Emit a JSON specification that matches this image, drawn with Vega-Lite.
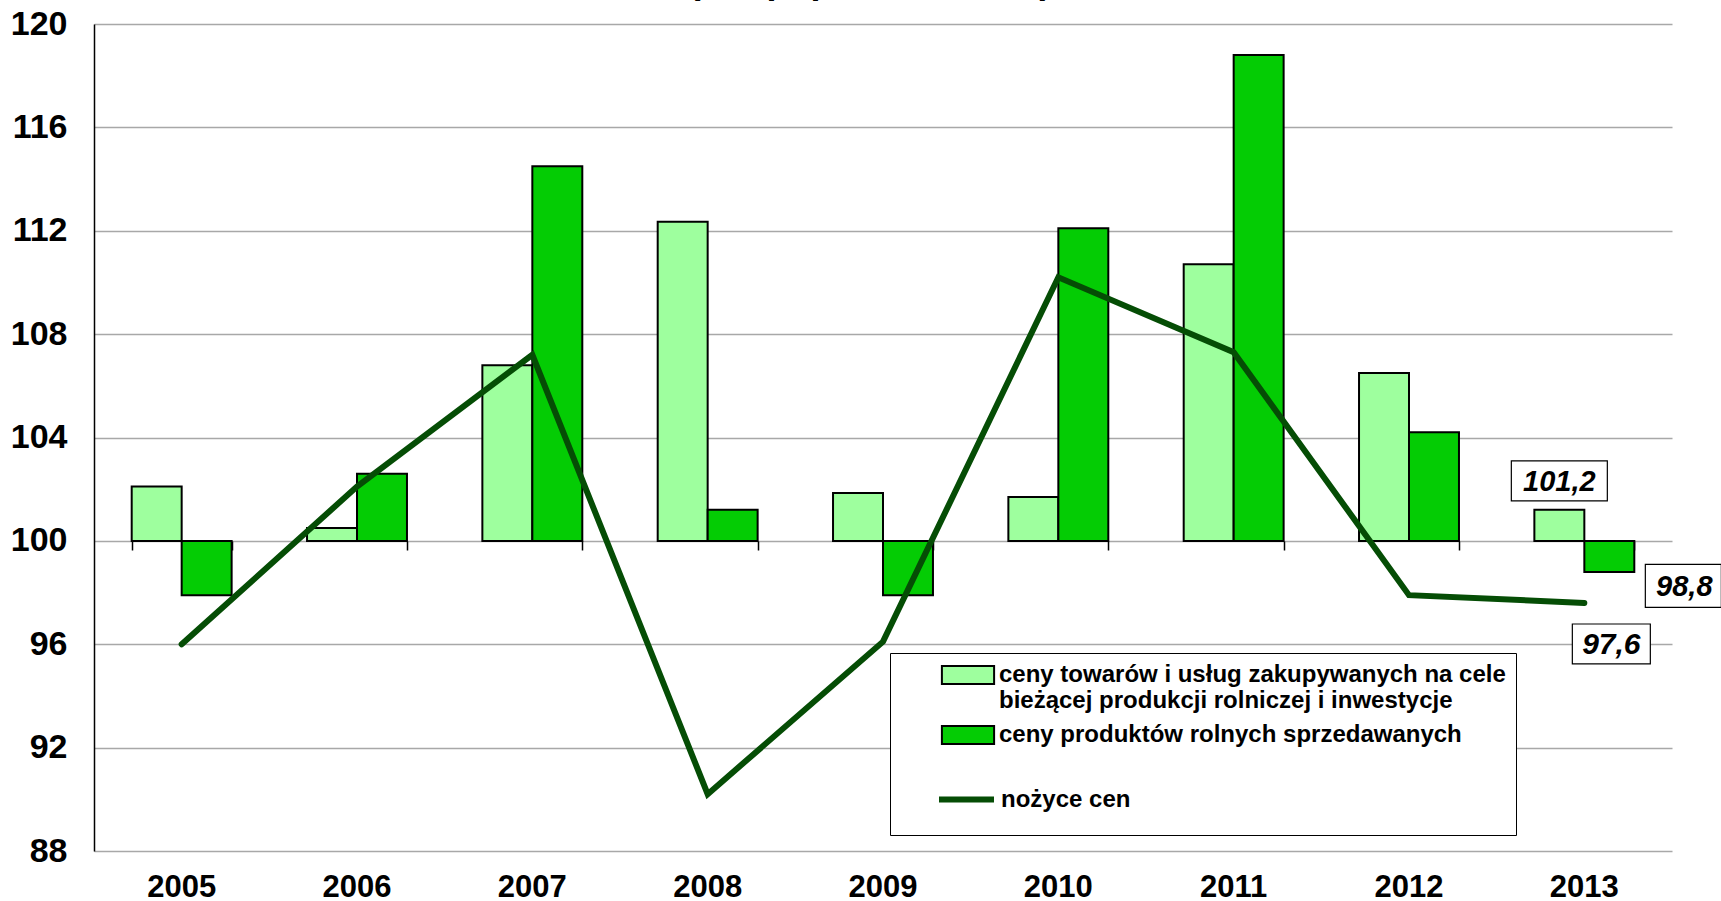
{
  "$schema": "https://vega.github.io/schema/vega-lite/v6.json",
  "width": 1578,
  "height": 827,
  "autosize": {"type": "none"},
  "padding": {"left": 94, "top": 24, "right": 49, "bottom": 50},
  "background": "white",
  "title": {
    "text": "(rok poprzedni = 100)",
    "fontSize": 36,
    "fontWeight": "bold",
    "font": "Liberation Sans",
    "anchor": "middle",
    "frame": "group",
    "baseline": "alphabetic",
    "offset": -22,
    "dx": -13
  },
  "config": {
    "font": "Liberation Sans",
    "view": {"stroke": null}
  },
  "datasets": {
    "bars": [
      {"year": "2005", "series": "ceny towarów i usług zakupywanych na cele bieżącej produkcji rolniczej i inwestycje", "value": 102.1},
      {"year": "2005", "series": "ceny produktów rolnych sprzedawanych", "value": 97.9},
      {"year": "2006", "series": "ceny towarów i usług zakupywanych na cele bieżącej produkcji rolniczej i inwestycje", "value": 100.5},
      {"year": "2006", "series": "ceny produktów rolnych sprzedawanych", "value": 102.6},
      {"year": "2007", "series": "ceny towarów i usług zakupywanych na cele bieżącej produkcji rolniczej i inwestycje", "value": 106.8},
      {"year": "2007", "series": "ceny produktów rolnych sprzedawanych", "value": 114.5},
      {"year": "2008", "series": "ceny towarów i usług zakupywanych na cele bieżącej produkcji rolniczej i inwestycje", "value": 112.35},
      {"year": "2008", "series": "ceny produktów rolnych sprzedawanych", "value": 101.2},
      {"year": "2009", "series": "ceny towarów i usług zakupywanych na cele bieżącej produkcji rolniczej i inwestycje", "value": 101.85},
      {"year": "2009", "series": "ceny produktów rolnych sprzedawanych", "value": 97.9},
      {"year": "2010", "series": "ceny towarów i usług zakupywanych na cele bieżącej produkcji rolniczej i inwestycje", "value": 101.7},
      {"year": "2010", "series": "ceny produktów rolnych sprzedawanych", "value": 112.1},
      {"year": "2011", "series": "ceny towarów i usług zakupywanych na cele bieżącej produkcji rolniczej i inwestycje", "value": 110.7},
      {"year": "2011", "series": "ceny produktów rolnych sprzedawanych", "value": 118.8},
      {"year": "2012", "series": "ceny towarów i usług zakupywanych na cele bieżącej produkcji rolniczej i inwestycje", "value": 106.5},
      {"year": "2012", "series": "ceny produktów rolnych sprzedawanych", "value": 104.2},
      {"year": "2013", "series": "ceny towarów i usług zakupywanych na cele bieżącej produkcji rolniczej i inwestycje", "value": 101.2},
      {"year": "2013", "series": "ceny produktów rolnych sprzedawanych", "value": 98.8}
    ],
    "line": [
      {"year": "2005", "series": "nożyce cen", "value": 96.0},
      {"year": "2006", "series": "nożyce cen", "value": 102.1},
      {"year": "2007", "series": "nożyce cen", "value": 107.2},
      {"year": "2008", "series": "nożyce cen", "value": 90.2},
      {"year": "2009", "series": "nożyce cen", "value": 96.1},
      {"year": "2010", "series": "nożyce cen", "value": 110.2},
      {"year": "2011", "series": "nożyce cen", "value": 107.3},
      {"year": "2012", "series": "nożyce cen", "value": 97.9},
      {"year": "2013", "series": "nożyce cen", "value": 97.6}
    ],
    "labels": [
      {"year": "2013", "label": "101,2", "value": 101.2},
      {"year": "2013", "label": "98,8", "value": 98.8},
      {"year": "2013", "label": "97,6", "value": 97.6}
    ]
  },
  "resolve": {"axis": {"x": "independent"}},
  "layer": [
    {
      "data": {"name": "bars"},
      "mark": {"type": "bar", "stroke": "black", "strokeWidth": 2},
      "encoding": {
        "x": {
          "field": "year", "type": "nominal", "title": null,
          "scale": {"paddingInner": 0.43, "paddingOuter": 0.215},
          "axis": {"orient": "bottom", "labelFontSize": 31, "labelFontWeight": "bold", "labelColor": "black", "labelAngle": 0, "ticks": false, "domain": false, "labelPadding": 21, "grid": false}
        },
        "xOffset": {"field": "series", "type": "nominal", "sort": null},
        "y": {
          "field": "value", "type": "quantitative", "title": null,
          "scale": {"domain": [88, 120], "nice": false, "zero": false},
          "axis": {"values": [88, 92, 96, 100, 104, 108, 112, 116, 120], "grid": true, "gridColor": "#A8A8A8", "gridWidth": 1.5, "ticks": false, "domain": true, "domainColor": "black", "domainWidth": 1.5, "labelFontSize": 34, "labelFontWeight": "bold", "labelColor": "black", "labelPadding": 27}
        },
        "y2": {"datum": 100},
        "fill": {
          "field": "series", "type": "nominal",
          "scale": {
            "domain": ["ceny towarów i usług zakupywanych na cele bieżącej produkcji rolniczej i inwestycje", "ceny produktów rolnych sprzedawanych"],
            "range": ["#9EFF9E", "#04CC04"]
          },
          "legend": {
            "orient": "none",
            "legendX": 796,
            "legendY": 629,
            "title": null,
            "strokeColor": "black",
            "fillColor": "white",
            "padding": 10,
            "symbolOffset": 56,
            "symbolType": "M-2.9,-1L2.9,-1L2.9,1L-2.9,1Z",
            "symbolSize": 324,
            "symbolStrokeColor": "black",
            "symbolStrokeWidth": 2,
            "labelFontSize": 24,
            "labelFontWeight": "bold",
            "labelColor": "black",
            "labelLimit": 800,
            "labelOffset": 19,
            "rowPadding": 9,
            "labelExpr": "datum.label === 'ceny towarów i usług zakupywanych na cele bieżącej produkcji rolniczej i inwestycje' ? ['ceny towarów i usług zakupywanych na cele', 'bieżącej produkcji rolniczej i inwestycje'] : [datum.label, ' ', ' ', ' ']"
          }
        }
      }
    },
    {
      "mark": {"type": "rule", "color": "black", "strokeWidth": 1.5},
      "encoding": {"y": {"datum": 100, "type": "quantitative"}}
    },
    {
      "data": {"name": "line"},
      "mark": {"type": "line", "strokeWidth": 6, "strokeCap": "round", "strokeJoin": "miter"},
      "encoding": {
        "x": {
          "field": "year", "type": "nominal",
          "axis": {"orient": "bottom", "offset": -310, "labels": false, "ticks": true, "tickBand": "extent", "tickSize": 9, "tickColor": "black", "tickWidth": 1.5, "domain": false, "title": null, "grid": false}
        },
        "y": {"field": "value", "type": "quantitative"},
        "stroke": {
          "field": "series", "type": "nominal",
          "scale": {"domain": ["nożyce cen"], "range": ["#054D05"]},
          "legend": {
            "orient": "none",
            "legendX": 842,
            "legendY": 745,
            "title": null,
            "padding": 0,
            "symbolOffset": 0,
            "symbolType": "stroke",
            "symbolSize": 3025,
            "symbolStrokeWidth": 6,
            "labelFontSize": 24,
            "labelFontWeight": "bold",
            "labelColor": "black",
            "labelLimit": 800,
            "labelOffset": 4
          }
        }
      }
    },
    {
      "data": {"name": "labels"},
      "transform": [{"filter": "datum.label === '101,2'"}],
      "layer": [
        {
          "mark": {"type": "point", "shape": "M-1,-0.417L1,-0.417L1,0.417L-1,0.417Z", "size": 9216, "filled": true, "fill": "white", "stroke": "black", "strokeWidth": 1.2, "opacity": 1, "xOffset": -25, "yOffset": -29},
          "encoding": {"x": {"field": "year", "type": "nominal", "axis": null}, "y": {"field": "value", "type": "quantitative"}}
        },
        {
          "mark": {"type": "text", "font": "Liberation Sans", "fontSize": 29, "fontWeight": "bold", "fontStyle": "italic", "color": "black", "baseline": "middle", "align": "center", "xOffset": -25, "yOffset": -28},
          "encoding": {"x": {"field": "year", "type": "nominal", "axis": null}, "y": {"field": "value", "type": "quantitative"}, "text": {"field": "label"}}
        }
      ]
    },
    {
      "data": {"name": "labels"},
      "transform": [{"filter": "datum.label === '98,8'"}],
      "layer": [
        {
          "mark": {"type": "point", "shape": "M-1,-0.566L1,-0.566L1,0.566L-1,0.566Z", "size": 5776, "filled": true, "fill": "white", "stroke": "black", "strokeWidth": 1.2, "opacity": 1, "xOffset": 99, "yOffset": 14},
          "encoding": {"x": {"field": "year", "type": "nominal", "axis": null}, "y": {"field": "value", "type": "quantitative"}}
        },
        {
          "mark": {"type": "text", "font": "Liberation Sans", "fontSize": 29, "fontWeight": "bold", "fontStyle": "italic", "color": "black", "baseline": "middle", "align": "center", "xOffset": 100, "yOffset": 15},
          "encoding": {"x": {"field": "year", "type": "nominal", "axis": null}, "y": {"field": "value", "type": "quantitative"}, "text": {"field": "label"}}
        }
      ]
    },
    {
      "data": {"name": "labels"},
      "transform": [{"filter": "datum.label === '97,6'"}],
      "layer": [
        {
          "mark": {"type": "point", "shape": "M-1,-0.51L1,-0.51L1,0.51L-1,0.51Z", "size": 6084, "filled": true, "fill": "white", "stroke": "black", "strokeWidth": 1.2, "opacity": 1, "xOffset": 27, "yOffset": 41},
          "encoding": {"x": {"field": "year", "type": "nominal", "axis": null}, "y": {"field": "value", "type": "quantitative"}}
        },
        {
          "mark": {"type": "text", "font": "Liberation Sans", "fontSize": 30, "fontWeight": "bold", "fontStyle": "italic", "color": "black", "baseline": "middle", "align": "center", "xOffset": 27, "yOffset": 42},
          "encoding": {"x": {"field": "year", "type": "nominal", "axis": null}, "y": {"field": "value", "type": "quantitative"}, "text": {"field": "label"}}
        }
      ]
    }
  ]
}
